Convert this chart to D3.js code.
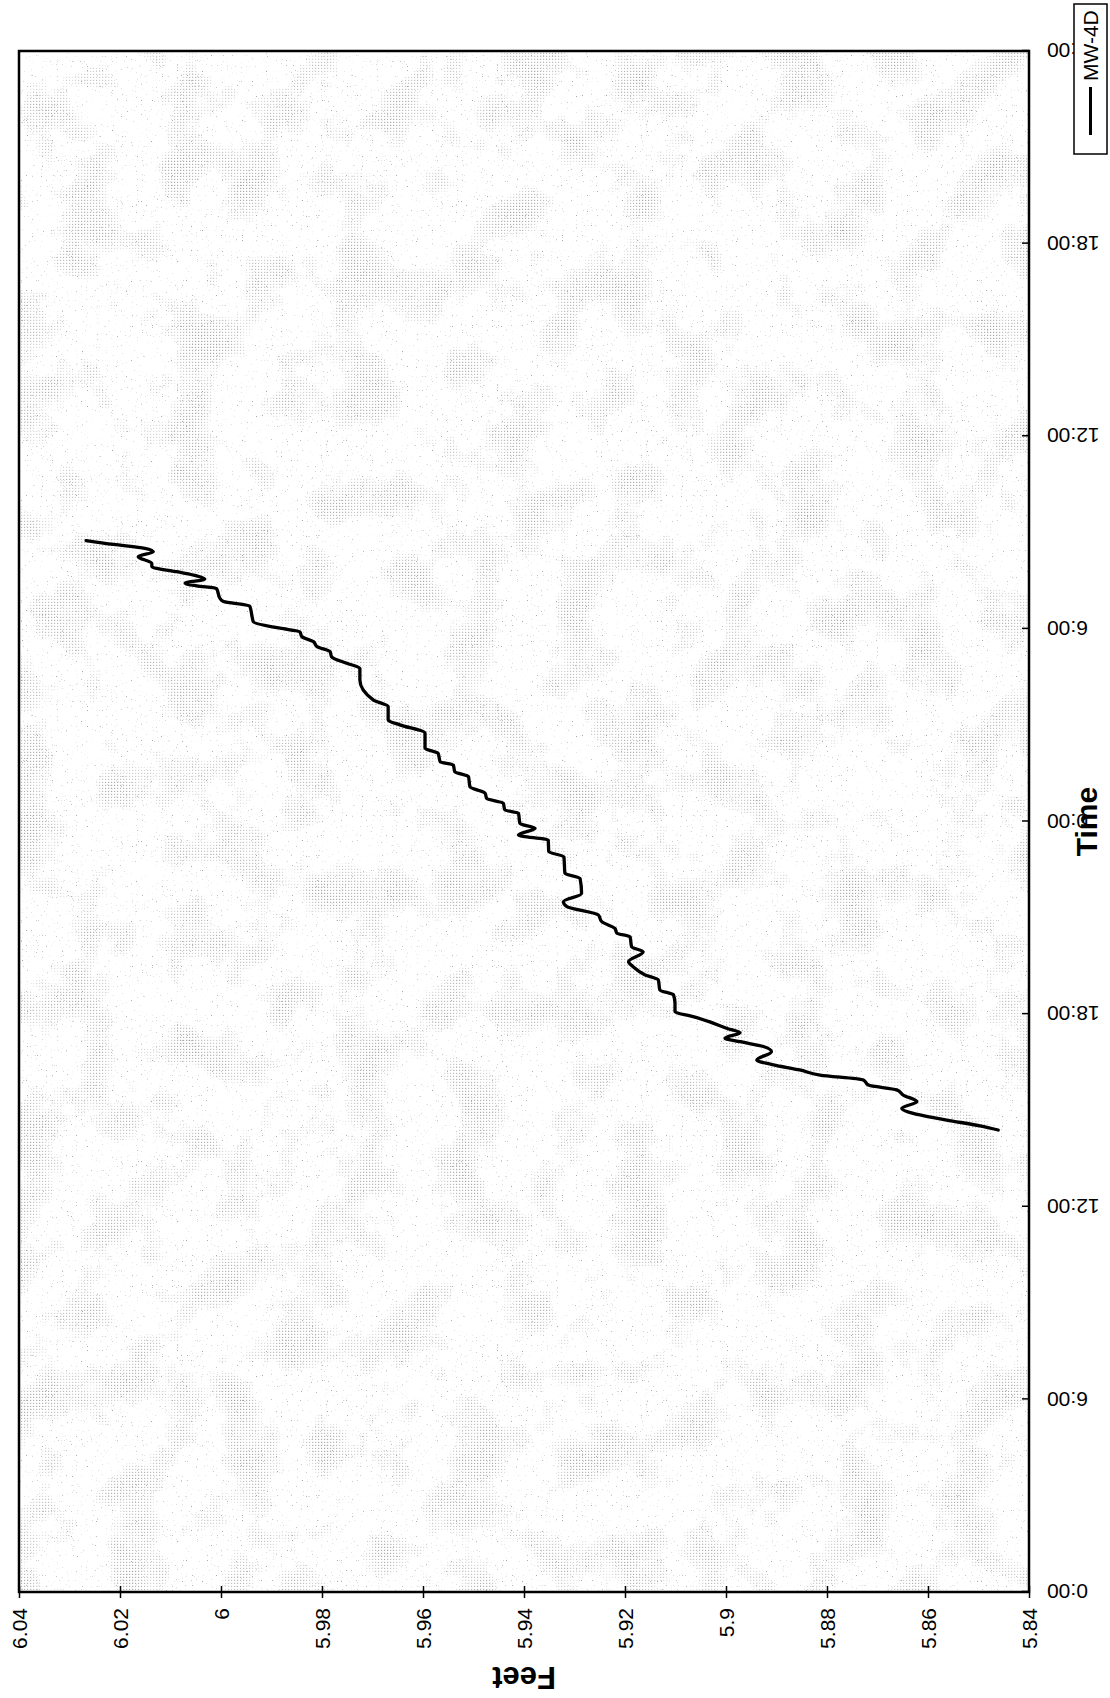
<!DOCTYPE html>
<html>
<head>
<meta charset="utf-8">
<script src="https://cdn.jsdelivr.net/npm/d3@7"></script>
<style>
  html, body { margin: 0; padding: 0; background: #fff; }
  svg { display: block; }
  text { font-family: "Liberation Sans", Arial, Helvetica, sans-serif; fill: #000; }
</style>
</head>
<body>
<svg id="chart" width="1110" height="1698"></svg>
<script>
// Water level logger record, hours since midnight of day 1
const hours = [14.39, 14.52, 14.70, 14.86, 15.07, 15.27, 15.48, 15.64, 15.79, 15.95,
  16.10, 16.26, 16.42, 16.57, 16.83, 16.99, 17.14, 17.25, 17.42, 17.56,
  17.76, 17.92, 18.08, 18.34, 18.60, 18.75, 19.06, 19.22, 19.48, 19.63,
  19.94, 20.10, 20.41, 20.52, 20.67, 20.88, 21.09, 21.35, 21.50, 21.76,
  22.23, 22.39, 22.90, 23.06, 23.42, 23.58, 23.79, 23.94, 24.26, 24.36,
  24.57, 24.72, 24.88, 25.08, 25.40, 25.55, 25.76, 25.86, 26.12, 26.28,
  26.75, 27.01, 27.16, 27.58, 27.78, 28.41, 28.77, 28.93, 29.13, 29.29,
  29.45, 29.60, 29.76, 29.91, 30.02, 30.22, 30.43, 30.71, 30.85, 30.95,
  31.26, 31.34, 31.42, 31.55, 31.65, 31.78, 31.94, 32.04, 32.25, 32.40,
  32.51, 32.63, 32.75];

// Level in feet at each of those times
const feet = [5.8461, 5.8497, 5.8563, 5.8616, 5.8652, 5.8622, 5.8649, 5.8662, 5.8718, 5.8728,
  5.8814, 5.8854, 5.8906, 5.8939, 5.8910, 5.8926, 5.8972, 5.9002, 5.8972, 5.8999,
  5.9032, 5.9065, 5.9101, 5.9101, 5.9104, 5.9131, 5.9134, 5.9160, 5.9184, 5.9193,
  5.9164, 5.9187, 5.9190, 5.9216, 5.9220, 5.9246, 5.9253, 5.9315, 5.9322, 5.9286,
  5.9289, 5.9319, 5.9321, 5.9351, 5.9352, 5.9411, 5.9378, 5.9408, 5.9411, 5.9438,
  5.9441, 5.9474, 5.9477, 5.9507, 5.9510, 5.9537, 5.9540, 5.9566, 5.9570, 5.9596,
  5.9596, 5.9646, 5.9669, 5.9669, 5.9698, 5.9725, 5.9725, 5.9751, 5.9781, 5.9784,
  5.9810, 5.9817, 5.9840, 5.9844, 5.9883, 5.9936, 5.9939, 5.9943, 5.9995, 6.0002,
  6.0009, 6.0048, 6.0071, 6.0032, 6.0048, 6.0088, 6.0137, 6.0137, 6.0164, 6.0134,
  6.0151, 6.0213, 6.0267];

const seriesName = "MW-4D";

const timeTicks = [0, 6, 12, 18, 24, 30, 36, 42, 48];
const timeTickLabels = ["0:00", "6:00", "12:00", "18:00", "0:00", "6:00", "12:00", "18:00", "0:00"];

const feetTicks = [6.04, 6.02, 6, 5.98, 5.96, 5.94, 5.92, 5.9, 5.88, 5.86, 5.84];
const feetTickLabels = ["6.04", "6.02", "6", "5.98", "5.96", "5.94", "5.92", "5.9", "5.88", "5.86", "5.84"];

// The chart is laid out landscape and then turned a quarter turn
// counter-clockwise onto the portrait page.
const PAGE_W = 1110, PAGE_H = 1698;
const plot = { left: 106, right: 1647, top: 19, bottom: 1029 };
const plotW = plot.right - plot.left, plotH = plot.bottom - plot.top;

const svg = d3.select("#chart");
const defs = svg.append("defs");

// halftone / mottled plot-area texture
const dots = defs.append("pattern")
  .attr("id", "halftone").attr("patternUnits", "userSpaceOnUse")
  .attr("width", 3).attr("height", 3);
dots.append("rect").attr("x", 0).attr("y", 0).attr("width", 1.2).attr("height", 1.2).attr("fill", "#707070");

const blotch = defs.append("filter").attr("id", "blotch")
  .attr("x", 0).attr("y", 0).attr("width", 1).attr("height", 1);
blotch.append("feTurbulence").attr("type", "fractalNoise")
  .attr("baseFrequency", 0.018).attr("numOctaves", 4).attr("seed", 5);
blotch.append("feColorMatrix").attr("type", "matrix")
  .attr("values", "3.4 0 0 0 -1.75  3.4 0 0 0 -1.75  3.4 0 0 0 -1.75  0 0 0 0 1");

const mask = defs.append("mask").attr("id", "blotchMask").attr("maskUnits", "userSpaceOnUse")
  .attr("x", plot.left).attr("y", plot.top).attr("width", plotW).attr("height", plotH);
mask.append("rect")
  .attr("x", plot.left).attr("y", plot.top).attr("width", plotW).attr("height", plotH)
  .attr("fill", "#fff").attr("filter", "url(#blotch)");

const speck = defs.append("filter").attr("id", "speck")
  .attr("x", 0).attr("y", 0).attr("width", 1).attr("height", 1);
speck.append("feTurbulence").attr("type", "fractalNoise")
  .attr("baseFrequency", 0.8).attr("numOctaves", 1).attr("seed", 2);
speck.append("feColorMatrix").attr("type", "matrix")
  .attr("values", "0 0 0 0 0.4  0 0 0 0 0.4  0 0 0 0 0.4  10 0 0 0 -6.9");

const g = svg.append("g")
  .attr("transform", `translate(0,${PAGE_H}) rotate(-90)`);

const x = d3.scaleLinear().domain([0, 48]).range([plot.left, plot.right]);
const y = d3.scaleLinear().domain([5.84, 6.04]).range([plot.bottom, plot.top]);

// plot-area texture
const tex = g.append("g");
tex.append("rect")
  .attr("x", plot.left).attr("y", plot.top).attr("width", plotW).attr("height", plotH)
  .attr("fill", "url(#halftone)").attr("mask", "url(#blotchMask)").attr("opacity", 0.6);
tex.append("rect")
  .attr("x", plot.left).attr("y", plot.top).attr("width", plotW).attr("height", plotH)
  .attr("fill", "#fff").attr("filter", "url(#speck)");

// series line
const pts = hours.map((h, i) => [h, feet[i]]);
const line = d3.line()
  .x(d => x(d[0]))
  .y(d => y(d[1]))
  .curve(d3.curveMonotoneX);
g.append("path")
  .attr("d", line(pts))
  .attr("fill", "none")
  .attr("stroke", "#000")
  .attr("stroke-width", 3.3)
  .attr("stroke-linejoin", "round")
  .attr("stroke-linecap", "round");

// feet axis (value axis)
const yAxis = g.append("g")
  .attr("transform", `translate(${plot.left},0)`)
  .call(d3.axisLeft(y)
    .tickValues(feetTicks)
    .tickFormat((d, i) => feetTickLabels[i])
    .tickSizeInner(6).tickSizeOuter(0).tickPadding(10));
yAxis.select(".domain").remove();
yAxis.selectAll(".tick line").attr("x1", 6).attr("x2", -6).attr("stroke", "#000").attr("stroke-width", 1.5);
yAxis.selectAll(".tick text")
  .attr("font-size", 21).attr("font-family", "Liberation Sans, Arial, sans-serif")
  .attr("x", -16).attr("dy", "0.35em");

// time axis (category axis)
const xAxis = g.append("g")
  .attr("transform", `translate(0,${plot.bottom})`)
  .call(d3.axisBottom(x)
    .tickValues(timeTicks)
    .tickFormat((d, i) => timeTickLabels[i])
    .tickSizeInner(-7).tickSizeOuter(0));
xAxis.select(".domain").remove();
xAxis.selectAll(".tick line").attr("stroke", "#000").attr("stroke-width", 1.5);
xAxis.selectAll(".tick text")
  .attr("font-size", 21).attr("font-family", "Liberation Sans, Arial, sans-serif")
  .attr("transform", "rotate(-90)")
  .attr("text-anchor", "end")
  .attr("x", -18).attr("y", 0).attr("dy", "0.35em");

// plot border
g.append("rect")
  .attr("x", plot.left).attr("y", plot.top).attr("width", plotW).attr("height", plotH)
  .attr("fill", "none").attr("stroke", "#000").attr("stroke-width", 2.5);

// axis titles
g.append("text")
  .attr("transform", `translate(31,${(plot.top + plot.bottom) / 2}) rotate(-90)`)
  .attr("text-anchor", "middle")
  .attr("font-size", 31).attr("font-weight", "bold")
  .text("Feet");
g.append("text")
  .attr("x", (plot.left + plot.right) / 2).attr("y", 1097)
  .attr("text-anchor", "middle")
  .attr("font-size", 30).attr("font-weight", "bold")
  .text("Time");

// legend
const lg = g.append("g");
lg.append("rect")
  .attr("x", 1544).attr("y", 1074).attr("width", 150).attr("height", 33)
  .attr("fill", "#fff").attr("stroke", "#000").attr("stroke-width", 1.5);
lg.append("line")
  .attr("x1", 1563).attr("x2", 1611).attr("y1", 1090.5).attr("y2", 1090.5)
  .attr("stroke", "#000").attr("stroke-width", 3);
lg.append("text")
  .attr("x", 1617).attr("y", 1090.5).attr("dy", "0.35em")
  .attr("font-size", 21)
  .text(seriesName);
</script>
</body>
</html>
